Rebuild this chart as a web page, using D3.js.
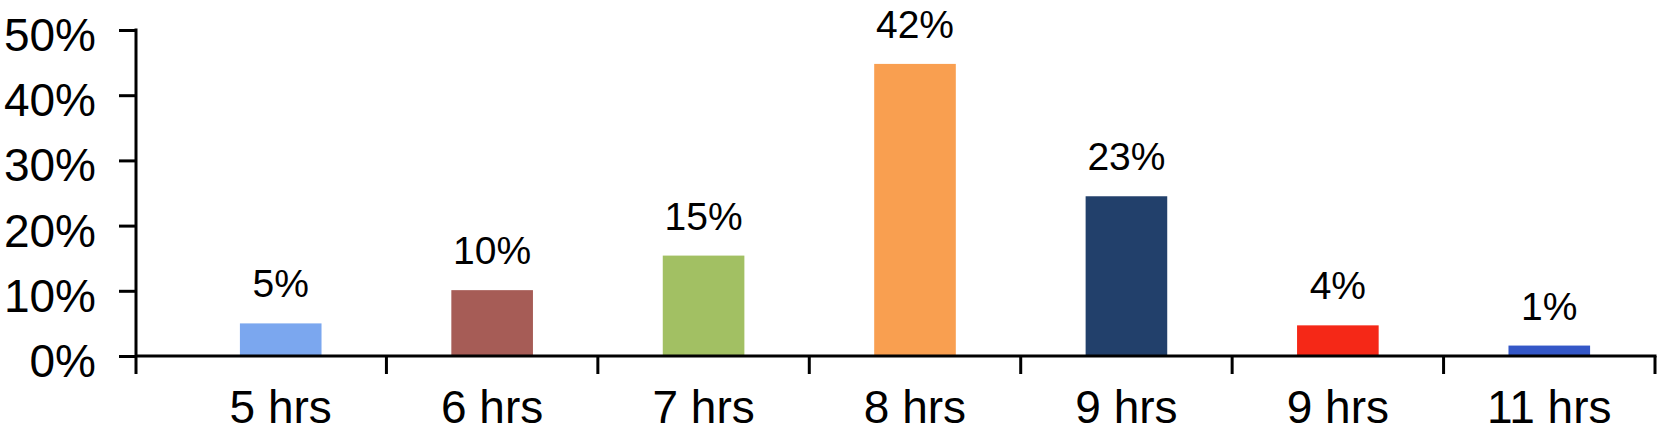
<!DOCTYPE html>
<html>
<head>
<meta charset="utf-8">
<script src="https://cdn.jsdelivr.net/npm/d3@7"></script>
<style>
  html, body { margin: 0; padding: 0; background: #fff; }
  svg text { font-family: "Liberation Sans", Arial, Helvetica, sans-serif; fill: #000; }
</style>
</head>
<body>
<div id="chart"></div>
<script>
// data
const categories = ["5 hrs", "6 hrs", "7 hrs", "8 hrs", "9 hrs", "9 hrs ", "11 hrs"];
const values = [5.0, 10.1, 15.4, 44.8, 24.5, 4.7, 1.6];          // bar heights (%)
const valueLabels = ["5%", "10%", "15%", "42%", "23%", "4%", "1%"];
const colors = ["#7ba7ef", "#a65c56", "#a2c063", "#f99f50", "#22406b", "#f52817", "#3457c7"];
const yTicks = [0, 10, 20, 30, 40, 50];

const width = 1658, height = 435;

const svg = d3.select("#chart")
  .append("svg")
    .attr("width", width)
    .attr("height", height);

// scales
const x = d3.scaleBand()
    .domain(categories)
    .range([175, 1655])
    .paddingInner(0.614)
    .paddingOuter(0.307);

const y = d3.scaleLinear()
    .domain([0, 50])
    .range([356, 30]);

const axisX = 136;

// bars
svg.append("g")
  .selectAll("rect")
  .data(values)
  .join("rect")
    .attr("x", (d, i) => x(categories[i]))
    .attr("y", d => y(d))
    .attr("width", x.bandwidth())
    .attr("height", d => y(0) - y(d))
    .attr("fill", (d, i) => colors[i]);

// value labels above bars
svg.append("g")
  .selectAll("text")
  .data(values)
  .join("text")
    .attr("x", (d, i) => x(categories[i]) + x.bandwidth() / 2)
    .attr("y", d => y(d) - 26)
    .attr("text-anchor", "middle")
    .style("font-size", "39px")
    .text((d, i) => valueLabels[i]);

// y axis
const yAxis = svg.append("g")
    .attr("transform", `translate(${axisX},0)`)
    .call(d3.axisLeft(y).tickValues(yTicks).tickSize(17).tickPadding(23).tickFormat(d => d + "%"));

yAxis.select(".domain").remove();
yAxis.selectAll(".tick line").attr("stroke", "#000").attr("stroke-width", 3);
yAxis.selectAll(".tick text")
    .attr("dy", "0.38em")
    .attr("y", 3)
    .style("font-size", "46px");

// y axis line (runs down past the baseline like a tick)
svg.append("line")
    .attr("x1", axisX).attr("x2", axisX)
    .attr("y1", y(50) - 1.5).attr("y2", y(0) + 18)
    .attr("stroke", "#000").attr("stroke-width", 3);

// x axis baseline
const step = x.step();
const xEnd = x(categories[categories.length - 1]) + x.bandwidth() / 2 + step / 2;
svg.append("line")
    .attr("x1", axisX).attr("x2", xEnd + 1.5)
    .attr("y1", y(0)).attr("y2", y(0))
    .attr("stroke", "#000").attr("stroke-width", 3);

// x ticks between categories
svg.append("g")
  .selectAll("line")
  .data(categories)
  .join("line")
    .attr("x1", d => x(d) + x.bandwidth() / 2 + step / 2)
    .attr("x2", d => x(d) + x.bandwidth() / 2 + step / 2)
    .attr("y1", y(0))
    .attr("y2", y(0) + 18)
    .attr("stroke", "#000").attr("stroke-width", 3);

// x category labels
svg.append("g")
  .selectAll("text")
  .data(categories)
  .join("text")
    .attr("x", d => x(d) + x.bandwidth() / 2)
    .attr("y", 423)
    .attr("text-anchor", "middle")
    .style("font-size", "46px")
    .text(d => d.trim());
</script>
</body>
</html>
